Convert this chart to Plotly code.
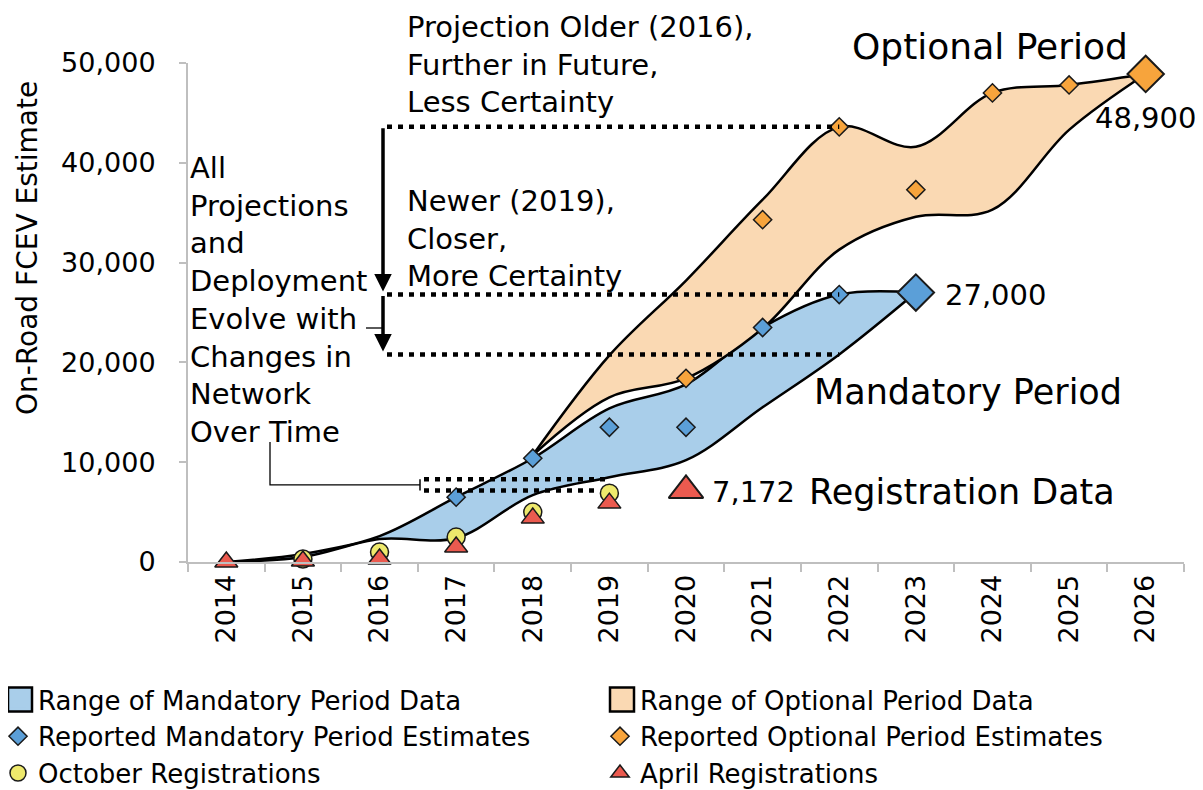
import plotly.graph_objects as go

# ---------------- data ----------------
years = [str(y) for y in range(2014, 2027)]

mand_years = ["2014", "2015", "2016", "2017", "2018", "2019", "2020", "2021", "2022", "2023"]
mand_upper = [0, 800, 2600, 6500, 10400, 15400, 17800, 23500, 26800, 27000]
mand_lower = [0, 500, 2300, 2400, 6700, 8500, 10200, 15500, 20800, 27000]

opt_years = ["2018", "2019", "2020", "2021", "2022", "2023", "2024", "2025", "2026"]
opt_upper = [10700, 20700, 28200, 36300, 43600, 41600, 47000, 47800, 48900]
opt_lower = [10700, 16500, 18400, 23400, 31300, 34600, 35300, 43300, 48900]

mand_est_years = ["2017", "2018", "2019", "2020", "2021", "2022"]
mand_est = [6500, 10400, 13500, 13500, 23500, 26800]
mand_final_year, mand_final = "2023", 27000

opt_est_years = ["2020", "2021", "2022", "2023", "2024", "2025"]
opt_est = [18400, 34300, 43600, 37300, 47000, 47800]
opt_final_year, opt_final = "2026", 48900

oct_years = ["2015", "2016", "2017", "2018", "2019"]
oct_reg = [300, 1000, 2500, 5000, 6900]

apr_years = ["2014", "2015", "2016", "2017", "2018", "2019"]
apr_reg = [0, 100, 300, 1500, 4400, 5900]
apr_latest_year, apr_latest = "2020", 7172

y_ticks = [0, 10000, 20000, 30000, 40000, 50000]

# ---------------- styles ----------------
BLUE_FILL = "#A9CEEA"
ORANGE_FILL = "#FAD9B3"
BLUE = "#5B9FD8"
ORANGE = "#F7A43C"
YELLOW = "#EEE96C"
RED = "#EB5A4F"
FONT = "DejaVu Sans"

# page geometry (pixels in the screenshot); the page body adds an 8px offset
OFF = 8
W, H = 1203, 790
L, R, T, B = 188, 1184, 63, 562
NCAT = len(years)
def px(xp):
    return (xp - L) / (R - L)
def py(yp):
    return (B - yp) / (B - T)
def cx(xp):
    return (xp - L) / ((R - L) / NCAT) - 0.5
def vy(yp):
    return (B - yp) / (B - T) * 50000

fig = go.Figure()

edge = dict(color="black", width=2.5, shape="spline", smoothing=1)

# mandatory range
fig.add_trace(go.Scatter(x=mand_years, y=mand_lower, mode="lines", line=edge,
                         showlegend=False, hoverinfo="skip"))
fig.add_trace(go.Scatter(x=mand_years, y=mand_upper, mode="lines", line=edge,
                         fill="tonexty", fillcolor=BLUE_FILL, showlegend=False, hoverinfo="skip"))
# optional range
fig.add_trace(go.Scatter(x=opt_years, y=opt_lower, mode="lines", line=edge,
                         showlegend=False, hoverinfo="skip"))
fig.add_trace(go.Scatter(x=opt_years, y=opt_upper, mode="lines", line=edge,
                         fill="tonexty", fillcolor=ORANGE_FILL, showlegend=False, hoverinfo="skip"))

# legend-only entries for the ranges
fig.add_trace(go.Scatter(x=[None], y=[None], mode="markers", name="Range of Mandatory Period Data",
                         legend="legend",
                         marker=dict(symbol="square", size=16, color=BLUE_FILL,
                                     line=dict(color=BLUE_FILL, width=0))))
fig.add_trace(go.Scatter(x=[None], y=[None], mode="markers", name="Range of Optional Period Data",
                         legend="legend2",
                         marker=dict(symbol="square", size=16, color=ORANGE_FILL,
                                     line=dict(color=ORANGE_FILL, width=0))))

# estimates
fig.add_trace(go.Scatter(x=mand_est_years, y=mand_est, mode="markers",
                         name="Reported Mandatory Period Estimates", cliponaxis=False,
                         legend="legend",
                         marker=dict(symbol="diamond", size=14, color=BLUE,
                                     line=dict(color="#1a1a1a", width=1.5))))
fig.add_trace(go.Scatter(x=opt_est_years, y=opt_est, mode="markers",
                         name="Reported Optional Period Estimates", cliponaxis=False,
                         legend="legend2",
                         marker=dict(symbol="diamond", size=14, color=ORANGE,
                                     line=dict(color="#1a1a1a", width=1.5))))
fig.add_trace(go.Scatter(x=[mand_final_year], y=[mand_final], mode="markers", showlegend=False,
                         cliponaxis=False,
                         marker=dict(symbol="diamond", size=28, color=BLUE,
                                     line=dict(color="#1a1a1a", width=2))))
fig.add_trace(go.Scatter(x=[opt_final_year], y=[opt_final], mode="markers", showlegend=False,
                         cliponaxis=False,
                         marker=dict(symbol="diamond", size=28, color=ORANGE,
                                     line=dict(color="#1a1a1a", width=2))))

# registrations
fig.add_trace(go.Scatter(x=oct_years, y=oct_reg, mode="markers", name="October Registrations",
                         cliponaxis=False, legend="legend",
                         marker=dict(symbol="circle", size=18, color=YELLOW,
                                     line=dict(color="#1a1a1a", width=1.5))))
fig.add_trace(go.Scatter(x=apr_years, y=apr_reg, mode="markers", name="April Registrations",
                         cliponaxis=False, legend="legend2",
                         marker=dict(symbol="triangle-up", size=20, color=RED,
                                     line=dict(color="#1a1a1a", width=1.5))))
fig.add_trace(go.Scatter(x=[apr_latest_year], y=[apr_latest], mode="markers", showlegend=False,
                         cliponaxis=False,
                         marker=dict(symbol="triangle-up", size=30, color=RED,
                                     line=dict(color="#1a1a1a", width=2))))

# ---------------- guide lines ----------------
i2022 = years.index("2022")
dot = dict(color="black", width=4.5, dash="5px,6px")
shapes = []
for yv in [opt_est[opt_est_years.index("2022")],
           mand_est[mand_est_years.index("2022")],
           mand_lower[mand_years.index("2022")]]:
    shapes.append(dict(type="line", xref="x", yref="y", x0=cx(387), x1=i2022, y0=yv, y1=yv,
                       line=dot))
rect_top = 8300
shapes.append(dict(type="line", xref="x", yref="y", x0=cx(424), x1=cx(610),
                   y0=rect_top, y1=rect_top, line=dot))
shapes.append(dict(type="line", xref="x", yref="y", x0=cx(424), x1=cx(598),
                   y0=apr_latest, y1=apr_latest, line=dot))
shapes.append(dict(type="line", xref="x", yref="y", x0=cx(420), x1=cx(420),
                   y0=apr_latest, y1=rect_top, line=dict(color="black", width=1.5)))
mid = (rect_top + apr_latest) / 2
shapes.append(dict(type="path", xref="x", yref="y",
                   path=f"M {cx(270)},{vy(442)} L {cx(270)},{mid} L {cx(420)},{mid}",
                   line=dict(color="black", width=1.3)))
shapes.append(dict(type="line", xref="x", yref="y", x0=cx(366), x1=cx(383),
                   y0=vy(328), y1=vy(328), line=dict(color="black", width=1.3)))

# larger square swatches behind the legend's range icons
LEG_TOP = 676
LEG_FONT = 26
row1 = LEG_TOP + 5 + (LEG_FONT * 1.3 + 3) / 2
for x_icon, col in [(20, BLUE_FILL), (622, ORANGE_FILL)]:
    shapes.append(dict(type="rect", xref="paper", yref="paper",
                       x0=px(x_icon - 12), x1=px(x_icon + 12),
                       y0=py(row1 - 12), y1=py(row1 + 12),
                       fillcolor=col, line=dict(color="black", width=2.5)))

annotations = []
ax_x = cx(383)
annotations.append(dict(x=ax_x, y=mand_est[mand_est_years.index("2022")] + 300, xref="x", yref="y",
                        ax=ax_x, ay=opt_est[opt_est_years.index("2022")], axref="x", ayref="y",
                        text="", showarrow=True, arrowhead=2, arrowsize=1, arrowwidth=3.5,
                        arrowcolor="black", standoff=0, startstandoff=0))
annotations.append(dict(x=ax_x, y=mand_lower[mand_years.index("2022")] + 300, xref="x", yref="y",
                        ax=ax_x, ay=mand_est[mand_est_years.index("2022")], axref="x", ayref="y",
                        text="", showarrow=True, arrowhead=2, arrowsize=1, arrowwidth=3.5,
                        arrowcolor="black", standoff=0, startstandoff=0))

def txt(text, xp, yp, size, xanchor="left", yanchor="middle", align="left", angle=0):
    annotations.append(dict(text=text, x=px(xp), y=py(yp), xref="paper", yref="paper",
                            xanchor=xanchor, yanchor=yanchor, align=align, showarrow=False,
                            textangle=angle,
                            font=dict(family=FONT, size=size, color="black")))

txt("On-Road FCEV Estimate", 27, 248, 28, xanchor="center", angle=-90)
txt("All<br>Projections<br>and<br>Deployment<br>Evolve with<br>Changes in<br>Network<br>Over Time",
    188, 300, 29)
txt("Projection Older (2016),<br>Further in Future,<br>Less Certainty", 405, 64, 29)
txt("Newer (2019),<br>Closer,<br>More Certainty", 405, 238, 29)
txt("Optional Period", 990, 47, 36, xanchor="center")
txt(f"{opt_final:,}", 1145, 118, 29, xanchor="center")
txt(f"{mand_final:,}", 995, 295, 29, xanchor="center")
txt("Mandatory Period", 968, 392, 35, xanchor="center")
txt(f"{apr_latest:,}", 753, 492, 29, xanchor="center")
txt("Registration Data", 962, 492, 35, xanchor="center")

axis_gray = "#BFBFBF"
leg_common = dict(orientation="v", yanchor="top", xanchor="left", y=py(LEG_TOP),
                  font=dict(family=FONT, size=LEG_FONT, color="black"),
                  bgcolor="rgba(0,0,0,0)", traceorder="normal")
fig.update_layout(
    width=W, height=H,
    margin=dict(l=L - OFF, r=W - (R - OFF), t=T - OFF, b=H - (B - OFF), autoexpand=False),
    plot_bgcolor="white", paper_bgcolor="white",
    font=dict(family=FONT, size=27, color="black"),
    shapes=shapes, annotations=annotations,
    showlegend=True,
    legend=dict(leg_common, x=px(-2)),
    legend2=dict(leg_common, x=px(600)),
    xaxis=dict(type="category", categoryorder="array", categoryarray=years,
               range=[-0.5, NCAT - 0.5], tickson="boundaries", ticks="outside", ticklen=8,
               tickcolor=axis_gray, tickwidth=1.5, showline=True, linecolor=axis_gray, linewidth=2,
               tickangle=-90, tickfont=dict(size=27), showgrid=False, zeroline=False),
    yaxis=dict(range=[0, 50000], tickvals=y_ticks, tickformat=",", ticks="outside", ticklen=7,
               tickcolor=axis_gray, tickwidth=1.5, showline=True, linecolor=axis_gray, linewidth=2,
               tickfont=dict(size=27), showgrid=False, zeroline=False, ticklabelstandoff=18),
)

fig.write_html("out.html")
